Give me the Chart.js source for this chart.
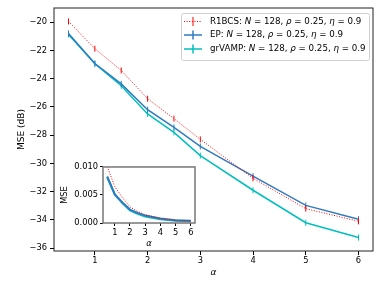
<!DOCTYPE html>
<html>
<head>
<meta charset="utf-8">
<script src="https://cdn.jsdelivr.net/npm/chart.js@4.4.0/dist/chart.umd.min.js"></script>
<style>
  body { margin: 0; background: #fff; }
  #wrap { position: relative; width: 382px; height: 287px; }
  #mainChart { position: absolute; left: 0; top: 0; }
  #insetChart { position: absolute; left: 60px; top: 160px; }
</style>
</head>
<body>
<div id="wrap">
  <canvas id="mainChart" width="382" height="287"></canvas>
  <canvas id="insetChart" width="140" height="90"></canvas>
</div>
<script>
// values
var alpha = [0.5, 1, 1.5, 2, 2.5, 3, 4, 5, 6];
var r1bcsDb = [-19.95, -21.88, -23.42, -25.42, -26.83, -28.3, -31.05, -33.2, -34.1];
var epDb = [-20.8, -22.93, -24.37, -26.2, -27.45, -28.8, -30.9, -32.97, -33.95];
var grvampDb = [-20.88, -22.95, -24.5, -26.5, -27.8, -29.45, -31.9, -34.2, -35.25];
// inset, linear MSE
var r1bcsLin = [0.0101, 0.0065, 0.00455, 0.00287, 0.00207, 0.00148, 0.00079, 0.00048, 0.00039];
var epLin = [0.0083, 0.0051, 0.00366, 0.0024, 0.0018, 0.00132, 0.00081, 0.0005, 0.0004];
var grvampLin = [0.0082, 0.0051, 0.00355, 0.00224, 0.00166, 0.00114, 0.00065, 0.00038, 0.0003];

var seriesNames = ['R1BCS', 'EP', 'grVAMP'];
var seriesColors = ['#ff0000', '#2f7bbf', '#00bfbf'];
var legendParams = [['N', ' = 128, '], ['ρ', ' = 0.25, '], ['η', ' = 0.9']];
var mainYTicks = [-36, -34, -32, -30, -28, -26, -24, -22, -20];
var xTicks = [1, 2, 3, 4, 5, 6];
var insetYTicks = [0, 0.005, 0.01];

var FONT = 'DejaVu Sans';
var FS = 8.3;      // tick labels
var FS_LEG = 8.7;  // legend
var FS_TITLE = 9;  // axis titles

function pts(ys){
    return alpha.map(function(a, i){ return {x: a, y: ys[i]}; });
}

function fixTicks(list){
    return function(scale){ scale.ticks = list.map(function(v){ return {value: v}; }); };
}

var framePlugin = {
    id: 'frame',
    afterDatasetsDraw: function(chart, args, opts){
        var a = chart.chartArea, ctx = chart.ctx;
        ctx.save();
        ctx.strokeStyle = opts.color;
        ctx.lineWidth = opts.width;
        ctx.strokeRect(a.left, a.top, a.right - a.left, a.bottom - a.top);
        ctx.restore();
    }
};

var bgPlugin = {
    id: 'areaBg',
    beforeDraw: function(chart){
        var a = chart.chartArea, ctx = chart.ctx;
        ctx.save();
        ctx.fillStyle = '#fff';
        ctx.fillRect(a.left, a.top, a.right - a.left, a.bottom - a.top);
        ctx.restore();
    }
};

function drawLabel(ctx, i, tx, y, doDraw){
    ctx.font = FS_LEG + 'px ' + FONT;
    var s = seriesNames[i] + ': ';
    if (doDraw) ctx.fillText(s, tx, y);
    tx += ctx.measureText(s).width;
    legendParams.forEach(function(p){
        ctx.font = 'italic ' + FS_LEG + 'px ' + FONT;
        if (doDraw) ctx.fillText(p[0], tx, y);
        tx += ctx.measureText(p[0]).width;
        ctx.font = FS_LEG + 'px ' + FONT;
        if (doDraw) ctx.fillText(p[1], tx, y);
        tx += ctx.measureText(p[1]).width;
    });
    return tx;
}

var legendPlugin = {
    id: 'mplLegend',
    afterDraw: function(chart){
        var ctx = chart.ctx;
        ctx.save();
        var maxEnd = 0;
        for (var k = 0; k < seriesNames.length; k++) maxEnd = Math.max(maxEnd, drawLabel(ctx, k, 210, 0, false));
        var x0 = 181, y0 = 13, w = Math.min(maxEnd + 4, 369) - x0, h = 47;
        ctx.fillStyle = 'rgba(255,255,255,0.8)';
        ctx.strokeStyle = '#d0d0d0';
        ctx.lineWidth = 1;
        ctx.beginPath();
        ctx.roundRect(x0 + 0.5, y0 + 0.5, w, h, 2);
        ctx.fill();
        ctx.stroke();
        var rows = [21.5, 35, 49];
        for (var i = 0; i < seriesNames.length; i++){
            var y = rows[i];
            ctx.strokeStyle = seriesColors[i];
            ctx.lineWidth = i == 0 ? 1 : 1.5;
            ctx.setLineDash(i == 0 ? [1, 1.6] : []);
            ctx.beginPath();
            ctx.moveTo(184, y); ctx.lineTo(202, y);
            ctx.stroke();
            ctx.setLineDash([]);
            ctx.beginPath();
            ctx.moveTo(193, y - 4.5); ctx.lineTo(193, y + 4.5);
            ctx.stroke();
            ctx.fillStyle = '#000';
            ctx.textBaseline = 'middle';
            drawLabel(ctx, i, 210, y, true);
        }
        ctx.restore();
    }
};

function mainSet(label, data, color, width, dash){
    return {
        label: label,
        data: pts(data),
        borderColor: color,
        backgroundColor: color,
        borderWidth: width,
        borderDash: dash,
        pointStyle: 'line',
        rotation: 90,
        pointRadius: 3,
        pointBorderWidth: 1,
        pointBorderColor: color,
        tension: 0
    };
}

new Chart(document.getElementById('mainChart'), {
    type: 'line',
    data: {
        datasets: [
            mainSet('R1BCS', r1bcsDb, seriesColors[0], 1, [1, 1.6]),
            mainSet('EP', epDb, seriesColors[1], 1.5, []),
            mainSet('grVAMP', grvampDb, seriesColors[2], 1.5, [])
        ]
    },
    options: {
        responsive: false,
        animation: false,
        layout: { padding: { left: 0, top: 8, right: 9, bottom: 0 } },
        plugins: {
            legend: { display: false },
            tooltip: { enabled: false },
            frame: { color: '#222', width: 1 }
        },
        scales: {
            x: {
                type: 'linear', min: 0.225, max: 6.275,
                afterBuildTicks: fixTicks(xTicks),
                afterFit: function(s){ s.height = 36; },
                grid: { drawOnChartArea: false, color: '#000', tickLength: 4 },
                border: { display: false },
                ticks: { color: '#000', font: { family: FONT, size: FS }, padding: 1 },
                title: { display: true, text: 'α', color: '#000', font: { family: FONT, size: FS_TITLE, style: 'italic' }, padding: { top: 0, bottom: 9 } }
            },
            y: {
                min: -36.2, max: -19.0,
                afterBuildTicks: fixTicks(mainYTicks),
                afterFit: function(s){ s.width = 54; },
                grid: { drawOnChartArea: false, color: '#000', tickLength: 4 },
                border: { display: false },
                ticks: {
                    color: '#000', font: { family: FONT, size: FS }, padding: 3,
                    callback: function(v){ return String(v).replace('-', '\u2212'); }
                },
                title: { display: true, text: 'MSE (dB)', color: '#000', font: { family: FONT, size: FS_TITLE }, padding: { top: 16, bottom: 0 } }
            }
        }
    },
    plugins: [framePlugin, legendPlugin]
});

function insetSet(label, data, color, width, dash){
    return {
        label: label,
        data: alpha.map(function(a, i){ return {x: a, y: data[i]}; }),
        borderColor: color,
        borderWidth: width,
        borderDash: dash,
        pointRadius: 0,
        tension: 0
    };
}

new Chart(document.getElementById('insetChart'), {
    type: 'line',
    data: {
        datasets: [
            insetSet('R1BCS', r1bcsLin, seriesColors[0], 1, [1, 1.6]),
            insetSet('EP', epLin, seriesColors[1], 2, []),
            insetSet('grVAMP', grvampLin, seriesColors[2], 2, [])
        ]
    },
    options: {
        responsive: false,
        animation: false,
        layout: { padding: { left: 0, top: 6, right: 5, bottom: 0 } },
        plugins: {
            legend: { display: false },
            tooltip: { enabled: false },
            frame: { color: '#777', width: 1.5 }
        },
        scales: {
            x: {
                type: 'linear', min: 0.225, max: 6.275,
                afterBuildTicks: fixTicks(xTicks),
                afterFit: function(s){ s.height = 27; },
                grid: { drawOnChartArea: false, color: '#000', tickLength: 3 },
                border: { display: false },
                ticks: { color: '#000', font: { family: FONT, size: FS }, padding: 2 },
                title: { display: true, text: 'α', color: '#000', font: { family: FONT, size: FS, style: 'italic' }, padding: { top: 0, bottom: 1 } }
            },
            y: {
                min: 0, max: 0.01,
                afterBuildTicks: fixTicks(insetYTicks),
                afterFit: function(s){ s.width = 43; },
                grid: { drawOnChartArea: false, color: '#000', tickLength: 3 },
                border: { display: false },
                ticks: {
                    color: '#000', font: { family: FONT, size: FS }, padding: 2,
                    callback: function(v){ return v.toFixed(3); }
                },
                title: { display: true, text: 'MSE', color: '#000', font: { family: FONT, size: FS }, padding: { top: 0, bottom: 0 } }
            }
        }
    },
    plugins: [bgPlugin, framePlugin]
});
</script>
</body>
</html>
